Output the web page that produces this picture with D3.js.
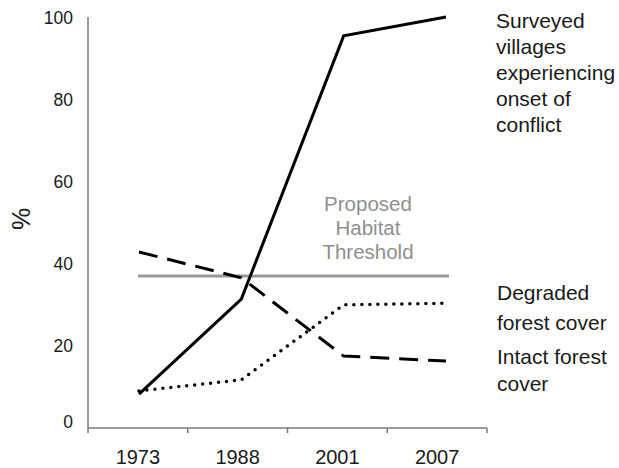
<!DOCTYPE html>
<html>
<head>
<meta charset="utf-8">
<script src="https://cdn.jsdelivr.net/npm/d3@7"></script>
<style>
  html, body { margin: 0; padding: 0; background: #fff; }
  svg { display: block; font-family: "Liberation Sans", Arial, sans-serif; }
</style>
</head>
<body>
<svg id="chart" width="619" height="468"></svg>
<script>
// ---- data ----
const years = ["1973", "1988", "2001", "2007"];
const conflict = [8.0, 31.2, 95.4, 100];
const degradedForest = [8.8, 11.5, 29.8, 30.2];
const intactForest = [42.7, 36.4, 17.3, 16.1];
const habitatThreshold = 36.8;
const yTicks = [0, 20, 40, 60, 80, 100];
const conflictLabel = ["Surveyed", "villages", "experiencing", "onset of", "conflict"];
const degradedLabel = ["Degraded", "forest cover"];
const intactLabel = ["Intact forest", "cover"];
const thresholdLabel = ["Proposed", "Habitat", "Threshold"];
const yAxisTitle = "%";

// ---- layout ----
const svg = d3.select("#chart");
const axisX = 88, axisBottom = 428, axisRight = 487;

const x = d3.scaleBand().domain(years).range([axisX, axisRight]).padding(0);
const xLine = d3.scalePoint().domain(years).range([139, 446]);
const y = d3.scaleLinear().domain([0, 100]).range([427, 17]);

const axisColor = "#7a7a7a";
const textColor = "#1a1a1a";

// y axis line
svg.append("line")
  .attr("x1", axisX).attr("x2", axisX)
  .attr("y1", y(100)).attr("y2", axisBottom)
  .attr("stroke", axisColor).attr("stroke-width", 1.5);

// y tick labels
svg.append("g").selectAll("text").data(yTicks).join("text")
  .attr("x", 73)
  .attr("y", d => y(d) + (d === 0 ? -5 : 1))
  .attr("dy", "0.35em")
  .attr("text-anchor", "end")
  .attr("font-size", 17.5)
  .attr("fill", textColor)
  .text(d => d);

// y axis title
svg.append("text")
  .attr("transform", "translate(30,219) rotate(-90)")
  .attr("text-anchor", "middle")
  .attr("font-size", 25)
  .attr("fill", textColor)
  .text(yAxisTitle);

// x axis line + ticks
svg.append("line")
  .attr("x1", axisX).attr("x2", axisRight)
  .attr("y1", axisBottom).attr("y2", axisBottom)
  .attr("stroke", axisColor).attr("stroke-width", 1.5);

const tickPositions = years.map(d => x(d)).concat([x(years[years.length - 1]) + x.bandwidth()]);
svg.append("g").selectAll("line").data(tickPositions).join("line")
  .attr("x1", d => d).attr("x2", d => d)
  .attr("y1", axisBottom).attr("y2", axisBottom + 5)
  .attr("stroke", axisColor).attr("stroke-width", 1.5);

svg.append("g").selectAll("text").data(years).join("text")
  .attr("x", d => x(d) + x.bandwidth() / 2)
  .attr("y", 464)
  .attr("text-anchor", "middle")
  .attr("font-size", 20)
  .attr("fill", textColor)
  .text(d => d);

// threshold line
const xr = xLine.range();
svg.append("line")
  .attr("x1", xr[0] - 1).attr("x2", xr[1] + 3)
  .attr("y1", y(habitatThreshold)).attr("y2", y(habitatThreshold))
  .attr("stroke", "#999999").attr("stroke-width", 3);

svg.append("g").selectAll("text").data(thresholdLabel).join("text")
  .attr("x", 368)
  .attr("y", (d, i) => 211 + i * 24)
  .attr("text-anchor", "middle")
  .attr("font-size", 20.5)
  .attr("fill", "#8f8f8f")
  .text(d => d);

// series lines
const line = d3.line()
  .x((d, i) => xLine(years[i]))
  .y(d => y(d));

svg.append("path")
  .datum(intactForest)
  .attr("d", line)
  .attr("fill", "none")
  .attr("stroke", "#000")
  .attr("stroke-width", 3)
  .attr("stroke-dasharray", "19 10");

svg.append("path")
  .datum(degradedForest)
  .attr("d", line)
  .attr("fill", "none")
  .attr("stroke", "#000")
  .attr("stroke-width", 3.5)
  .attr("stroke-linecap", "round")
  .attr("stroke-dasharray", "0 8");

svg.append("path")
  .datum(conflict)
  .attr("d", line)
  .attr("fill", "none")
  .attr("stroke", "#000")
  .attr("stroke-width", 3)
  .attr("stroke-linejoin", "miter");

// right-side labels
function addLabel(lines, x0, y0, step) {
  svg.append("g").selectAll("text").data(lines).join("text")
    .attr("x", x0)
    .attr("y", (d, i) => y0 + i * step)
    .attr("font-size", 21)
    .attr("fill", textColor)
    .text(d => d);
}
addLabel(conflictLabel, 496, 28, 26);
addLabel(degradedLabel, 497, 300, 30);
addLabel(intactLabel, 497, 364, 27);
</script>
</body>
</html>
